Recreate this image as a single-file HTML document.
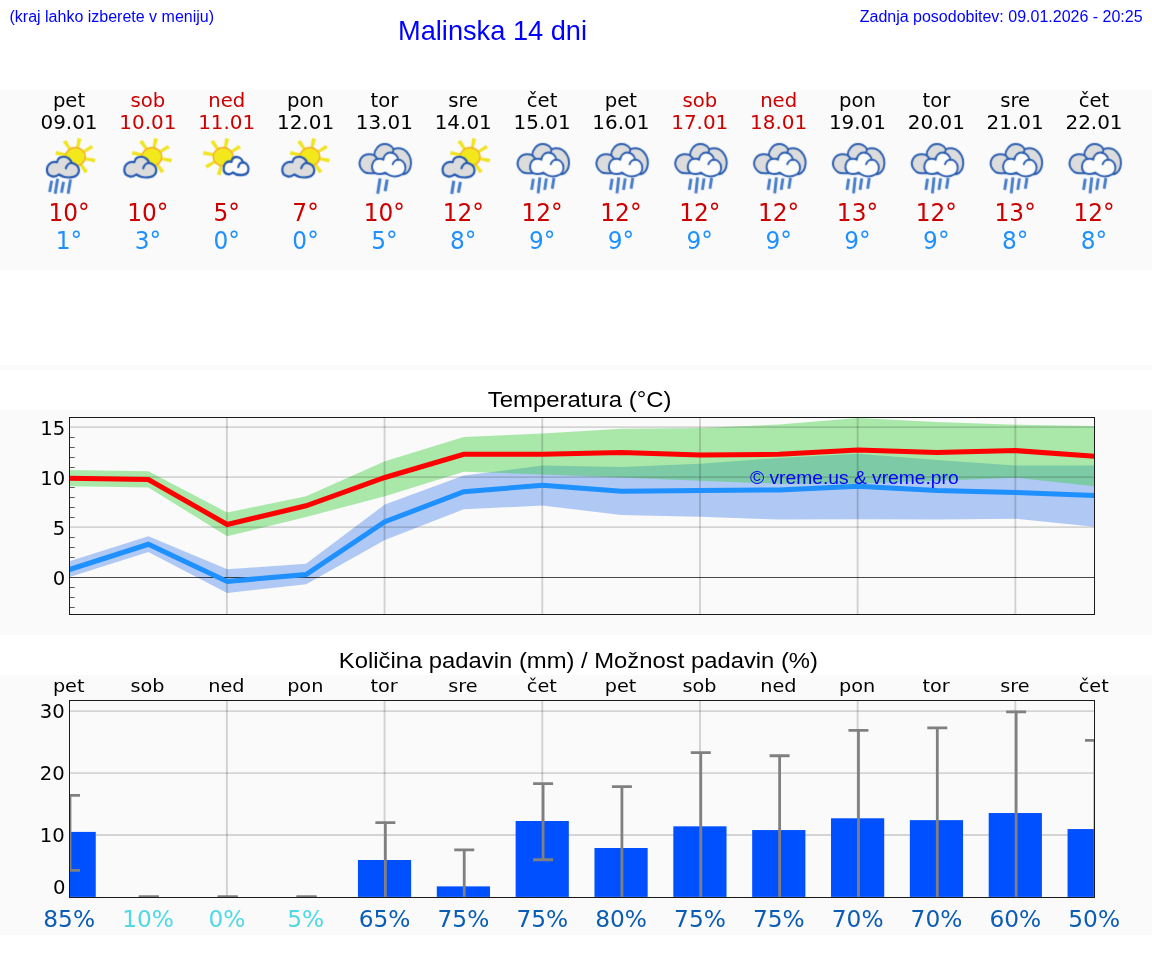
<!DOCTYPE html>
<html lang="sl"><head><meta charset="utf-8"><title>Malinska 14 dni</title>
<style>
html,body{margin:0;padding:0;background:#fff;}
body{width:1152px;height:975px;overflow:hidden;position:relative;}
svg{position:absolute;left:0;top:0;display:block;}
.a{font-family:"Liberation Sans",Arial,Helvetica,sans-serif;}
.d{font-family:"DejaVu Sans","Liberation Sans",sans-serif;}
</style></head><body>
<svg width="1152" height="975" viewBox="0 0 1152 975">
<text class="a" x="9.50" y="21.50" font-size="16" fill="#0000ff" text-anchor="start">(kraj lahko izberete v meniju)</text>
<text class="a" x="492.50" y="39.50" font-size="27.2" fill="#0000ff" text-anchor="middle">Malinska 14 dni</text>
<text class="a" x="1142.60" y="21.80" font-size="16" fill="#0000ff" text-anchor="end">Zadnja posodobitev: 09.01.2026 - 20:25</text>
<rect x="0" y="90" width="1152" height="180" fill="#fafafa"/>
<rect x="0" y="365" width="1152" height="5" fill="#fafafa"/>
<rect x="0" y="410" width="1152" height="225" fill="#fafafa"/>
<rect x="0" y="675" width="1152" height="260" fill="#fafafa"/>
<defs>
<filter id="soft" x="-10%" y="-10%" width="120%" height="120%" color-interpolation-filters="sRGB"><feConvolveMatrix order="3" kernelMatrix="0.0144 0.0912 0.0144 0.0912 0.5776 0.0912 0.0144 0.0912 0.0144" divisor="1" preserveAlpha="false" edgeMode="none"/></filter>
<g id="sun">
 <g fill="#f0e31e">
  <polygon points="-1.35,-9 1.35,-9 1.85,-18.6 -1.85,-18.6" transform="rotate(12)"/>
  <polygon points="-1.35,-9 1.35,-9 1.85,-18.6 -1.85,-18.6" transform="rotate(57)"/>
  <polygon points="-1.35,-9 1.35,-9 1.85,-18.6 -1.85,-18.6" transform="rotate(102)"/>
  <polygon points="-1.35,-9 1.35,-9 1.85,-18.6 -1.85,-18.6" transform="rotate(147)"/>
  <polygon points="-1.35,-9 1.35,-9 1.85,-18.6 -1.85,-18.6" transform="rotate(192)"/>
  <polygon points="-1.35,-9 1.35,-9 1.85,-18.6 -1.85,-18.6" transform="rotate(237)"/>
  <polygon points="-1.35,-9 1.35,-9 1.85,-18.6 -1.85,-18.6" transform="rotate(282)"/>
  <polygon points="-1.35,-9 1.35,-9 1.85,-18.6 -1.85,-18.6" transform="rotate(327)"/>
 </g>
 <circle cx="0" cy="0" r="9.2" fill="#f2e81c" stroke="#f5ab28" stroke-width="1.3"/>
</g>
<g id="cloudS">
 <path d="M278.0,608.8 C249.5,633.6 211.5,642.8 183.0,636.4 C130.8,624.4 102.2,583.0 107.0,532.4 C111.8,472.6 159.2,431.2 211.5,428.5 C225.8,427.6 240.0,430.3 251.4,434.0 C259.0,385.2 297.0,354.9 344.5,354.9 C396.8,354.9 449.0,389.8 460.4,442.3 C515.5,449.6 565.9,491.0 565.9,546.2 C565.9,601.4 529.8,638.2 472.8,647.4 C406.2,658.5 330.2,647.4 278.0,608.8 Z" stroke-linejoin="round"/>
 <path d="M461.4,443.2 C425.2,445.0 387.2,477.2 377.8,520.5" fill="none" stroke-linecap="round"/>
</g>
<g id="cloudB" stroke="#2a5db0" stroke-width="28" stroke-linejoin="round">
 <path d="M300,590 C230,600 150,580 115,500 C85,420 130,330 230,320 C265,317 295,322 320,332 C320,255 385,172 465,172 C525,172 575,198 600,245 C640,230 700,228 745,250 C815,285 860,370 855,450 C850,530 810,590 750,605 Z" fill="#dcdcdc"/>
 <path d="M320,580 C290,550 280,500 295,455 C312,405 360,380 410,385 C425,386 440,390 452,397 C455,340 500,295 555,295 C610,295 660,335 670,395 C720,400 765,440 773,500 C780,560 740,610 680,628 C620,645 540,635 478,582 C430,605 365,610 320,580 Z" fill="#fcfcfc"/>
 <path d="M672,397 C640,395 600,420 588,462" fill="none" stroke-linecap="round"/>
 <path d="M320,332 C335,350 350,370 366,386 M600,245 C601,265 593,285 581,300" fill="none" stroke-linecap="round"/>
</g>
<g id="icA">
 <g transform="translate(6.4,156.7) scale(1.08,1)"><use href="#sun"/></g>
 <g transform="translate(-29.498,132) scale(0.069735)"><use href="#cloudS" fill="#dcdcdc" stroke="#2358b0" stroke-width="31"/>
  <g stroke="#447bc8" stroke-width="42"><line x1="175" y1="700" x2="145" y2="860"/><line x1="260" y1="670" x2="225" y2="885"/><line x1="345" y1="715" x2="315" y2="870"/><line x1="445" y1="680" x2="410" y2="885"/></g>
 </g>
</g>
<g id="icB">
 <g transform="translate(5.5,156.7) scale(1.08,1)"><use href="#sun"/></g>
 <g transform="translate(-29.498,132) scale(0.069735)"><use href="#cloudS" fill="#dcdcdc" stroke="#2358b0" stroke-width="31"/></g>
</g>
<g id="icC">
 <g transform="translate(-4.1,156.7) scale(1.08,1)"><use href="#sun"/></g>
 <g transform="translate(8.8,166) scale(0.054,0.0609) translate(-335,-503)"><use href="#cloudS" fill="#fcfcfc" stroke="#2358b0" stroke-width="40"/></g>
</g>
<g id="icD">
 <g transform="translate(-32.2,132) scale(0.0687,0.069735)"><use href="#cloudB"/>
  <g stroke="#447bc8" stroke-width="44"><line x1="405" y1="665" x2="370" y2="885"/><line x1="508" y1="680" x2="478" y2="850"/></g>
 </g>
</g>
<g id="icE">
 <g transform="translate(6.4,156.7) scale(1.08,1)"><use href="#sun"/></g>
 <g transform="translate(-28.6,132) scale(0.069735)"><use href="#cloudS" fill="#dcdcdc" stroke="#2358b0" stroke-width="31"/>
  <g stroke="#447bc8" stroke-width="44"><line x1="268" y1="700" x2="238" y2="890"/><line x1="363" y1="715" x2="333" y2="870"/></g>
 </g>
</g>
<g id="icF">
 <g transform="translate(-31.7,132) scale(0.0687,0.069735)"><use href="#cloudB"/>
  <g stroke="#447bc8" stroke-width="42"><line x1="335" y1="670" x2="310" y2="830"/><line x1="430" y1="650" x2="405" y2="880"/><line x1="525" y1="665" x2="500" y2="830"/><line x1="635" y1="660" x2="610" y2="815"/></g>
 </g>
</g>
</defs>
<text class="d" transform="translate(69.00,107.20) scale(1.05,1)" font-size="18.7" fill="#000000" text-anchor="middle">pet</text>
<text class="d" transform="translate(69.00,128.90) scale(1.0667,1)" font-size="18.7" fill="#000000" text-anchor="middle">09.01</text>
<use href="#icA" x="69.00" y="0" filter="url(#soft)"/>
<text class="d" transform="translate(69.00,221.20) scale(0.93,1)" font-size="25" fill="#cc0000" text-anchor="middle">10°</text>
<text class="d" transform="translate(69.00,248.80) scale(0.93,1)" font-size="25" fill="#1e90ff" text-anchor="middle">1°</text>
<text class="d" transform="translate(147.85,107.20) scale(1.05,1)" font-size="18.7" fill="#cc0000" text-anchor="middle">sob</text>
<text class="d" transform="translate(147.85,128.90) scale(1.0667,1)" font-size="18.7" fill="#cc0000" text-anchor="middle">10.01</text>
<use href="#icB" x="146.35" y="0" filter="url(#soft)"/>
<text class="d" transform="translate(147.85,221.20) scale(0.93,1)" font-size="25" fill="#cc0000" text-anchor="middle">10°</text>
<text class="d" transform="translate(147.85,248.80) scale(0.93,1)" font-size="25" fill="#1e90ff" text-anchor="middle">3°</text>
<text class="d" transform="translate(226.69,107.20) scale(1.05,1)" font-size="18.7" fill="#cc0000" text-anchor="middle">ned</text>
<text class="d" transform="translate(226.69,128.90) scale(1.0667,1)" font-size="18.7" fill="#cc0000" text-anchor="middle">11.01</text>
<use href="#icC" x="227.19" y="0" filter="url(#soft)"/>
<text class="d" transform="translate(226.69,221.20) scale(0.93,1)" font-size="25" fill="#cc0000" text-anchor="middle">5°</text>
<text class="d" transform="translate(226.69,248.80) scale(0.93,1)" font-size="25" fill="#1e90ff" text-anchor="middle">0°</text>
<text class="d" transform="translate(305.54,107.20) scale(1.05,1)" font-size="18.7" fill="#000000" text-anchor="middle">pon</text>
<text class="d" transform="translate(305.54,128.90) scale(1.0667,1)" font-size="18.7" fill="#000000" text-anchor="middle">12.01</text>
<use href="#icB" x="304.34" y="0" filter="url(#soft)"/>
<text class="d" transform="translate(305.54,221.20) scale(0.93,1)" font-size="25" fill="#cc0000" text-anchor="middle">7°</text>
<text class="d" transform="translate(305.54,248.80) scale(0.93,1)" font-size="25" fill="#1e90ff" text-anchor="middle">0°</text>
<text class="d" transform="translate(384.38,107.20) scale(1.05,1)" font-size="18.7" fill="#000000" text-anchor="middle">tor</text>
<text class="d" transform="translate(384.38,128.90) scale(1.0667,1)" font-size="18.7" fill="#000000" text-anchor="middle">13.01</text>
<use href="#icD" x="384.48" y="0" filter="url(#soft)"/>
<text class="d" transform="translate(384.38,221.20) scale(0.93,1)" font-size="25" fill="#cc0000" text-anchor="middle">10°</text>
<text class="d" transform="translate(384.38,248.80) scale(0.93,1)" font-size="25" fill="#1e90ff" text-anchor="middle">5°</text>
<text class="d" transform="translate(463.23,107.20) scale(1.05,1)" font-size="18.7" fill="#000000" text-anchor="middle">sre</text>
<text class="d" transform="translate(463.23,128.90) scale(1.0667,1)" font-size="18.7" fill="#000000" text-anchor="middle">14.01</text>
<use href="#icE" x="463.73" y="0" filter="url(#soft)"/>
<text class="d" transform="translate(463.23,221.20) scale(0.93,1)" font-size="25" fill="#cc0000" text-anchor="middle">12°</text>
<text class="d" transform="translate(463.23,248.80) scale(0.93,1)" font-size="25" fill="#1e90ff" text-anchor="middle">8°</text>
<text class="d" transform="translate(542.08,107.20) scale(1.05,1)" font-size="18.7" fill="#000000" text-anchor="middle">čet</text>
<text class="d" transform="translate(542.08,128.90) scale(1.0667,1)" font-size="18.7" fill="#000000" text-anchor="middle">15.01</text>
<use href="#icF" x="542.03" y="0" filter="url(#soft)"/>
<text class="d" transform="translate(542.08,221.20) scale(0.93,1)" font-size="25" fill="#cc0000" text-anchor="middle">12°</text>
<text class="d" transform="translate(542.08,248.80) scale(0.93,1)" font-size="25" fill="#1e90ff" text-anchor="middle">9°</text>
<text class="d" transform="translate(620.92,107.20) scale(1.05,1)" font-size="18.7" fill="#000000" text-anchor="middle">pet</text>
<text class="d" transform="translate(620.92,128.90) scale(1.0667,1)" font-size="18.7" fill="#000000" text-anchor="middle">16.01</text>
<use href="#icF" x="620.87" y="0" filter="url(#soft)"/>
<text class="d" transform="translate(620.92,221.20) scale(0.93,1)" font-size="25" fill="#cc0000" text-anchor="middle">12°</text>
<text class="d" transform="translate(620.92,248.80) scale(0.93,1)" font-size="25" fill="#1e90ff" text-anchor="middle">9°</text>
<text class="d" transform="translate(699.77,107.20) scale(1.05,1)" font-size="18.7" fill="#cc0000" text-anchor="middle">sob</text>
<text class="d" transform="translate(699.77,128.90) scale(1.0667,1)" font-size="18.7" fill="#cc0000" text-anchor="middle">17.01</text>
<use href="#icF" x="699.72" y="0" filter="url(#soft)"/>
<text class="d" transform="translate(699.77,221.20) scale(0.93,1)" font-size="25" fill="#cc0000" text-anchor="middle">12°</text>
<text class="d" transform="translate(699.77,248.80) scale(0.93,1)" font-size="25" fill="#1e90ff" text-anchor="middle">9°</text>
<text class="d" transform="translate(778.62,107.20) scale(1.05,1)" font-size="18.7" fill="#cc0000" text-anchor="middle">ned</text>
<text class="d" transform="translate(778.62,128.90) scale(1.0667,1)" font-size="18.7" fill="#cc0000" text-anchor="middle">18.01</text>
<use href="#icF" x="778.57" y="0" filter="url(#soft)"/>
<text class="d" transform="translate(778.62,221.20) scale(0.93,1)" font-size="25" fill="#cc0000" text-anchor="middle">12°</text>
<text class="d" transform="translate(778.62,248.80) scale(0.93,1)" font-size="25" fill="#1e90ff" text-anchor="middle">9°</text>
<text class="d" transform="translate(857.46,107.20) scale(1.05,1)" font-size="18.7" fill="#000000" text-anchor="middle">pon</text>
<text class="d" transform="translate(857.46,128.90) scale(1.0667,1)" font-size="18.7" fill="#000000" text-anchor="middle">19.01</text>
<use href="#icF" x="857.41" y="0" filter="url(#soft)"/>
<text class="d" transform="translate(857.46,221.20) scale(0.93,1)" font-size="25" fill="#cc0000" text-anchor="middle">13°</text>
<text class="d" transform="translate(857.46,248.80) scale(0.93,1)" font-size="25" fill="#1e90ff" text-anchor="middle">9°</text>
<text class="d" transform="translate(936.31,107.20) scale(1.05,1)" font-size="18.7" fill="#000000" text-anchor="middle">tor</text>
<text class="d" transform="translate(936.31,128.90) scale(1.0667,1)" font-size="18.7" fill="#000000" text-anchor="middle">20.01</text>
<use href="#icF" x="936.26" y="0" filter="url(#soft)"/>
<text class="d" transform="translate(936.31,221.20) scale(0.93,1)" font-size="25" fill="#cc0000" text-anchor="middle">12°</text>
<text class="d" transform="translate(936.31,248.80) scale(0.93,1)" font-size="25" fill="#1e90ff" text-anchor="middle">9°</text>
<text class="d" transform="translate(1015.15,107.20) scale(1.05,1)" font-size="18.7" fill="#000000" text-anchor="middle">sre</text>
<text class="d" transform="translate(1015.15,128.90) scale(1.0667,1)" font-size="18.7" fill="#000000" text-anchor="middle">21.01</text>
<use href="#icF" x="1015.10" y="0" filter="url(#soft)"/>
<text class="d" transform="translate(1015.15,221.20) scale(0.93,1)" font-size="25" fill="#cc0000" text-anchor="middle">13°</text>
<text class="d" transform="translate(1015.15,248.80) scale(0.93,1)" font-size="25" fill="#1e90ff" text-anchor="middle">8°</text>
<text class="d" transform="translate(1094.00,107.20) scale(1.05,1)" font-size="18.7" fill="#000000" text-anchor="middle">čet</text>
<text class="d" transform="translate(1094.00,128.90) scale(1.0667,1)" font-size="18.7" fill="#000000" text-anchor="middle">22.01</text>
<use href="#icF" x="1093.95" y="0" filter="url(#soft)"/>
<text class="d" transform="translate(1094.00,221.20) scale(0.93,1)" font-size="25" fill="#cc0000" text-anchor="middle">12°</text>
<text class="d" transform="translate(1094.00,248.80) scale(0.93,1)" font-size="25" fill="#1e90ff" text-anchor="middle">8°</text>
<text class="a" transform="translate(579.60,407.40) scale(1.078,1)" font-size="22.2" fill="#000" text-anchor="middle">Temperatura (°C)</text>
<clipPath id="cpT"><rect x="69.5" y="417.5" width="1025.0" height="197.0"/></clipPath>
<line x1="69.5" x2="74.7" y1="607.50" y2="607.50" stroke="#000" stroke-opacity="0.8" stroke-width="0.8"/>
<line x1="69.5" x2="74.7" y1="597.50" y2="597.50" stroke="#000" stroke-opacity="0.8" stroke-width="0.8"/>
<line x1="69.5" x2="74.7" y1="587.50" y2="587.50" stroke="#000" stroke-opacity="0.8" stroke-width="0.8"/>
<line x1="69.5" x2="74.7" y1="567.50" y2="567.50" stroke="#000" stroke-opacity="0.8" stroke-width="0.8"/>
<line x1="69.5" x2="74.7" y1="557.50" y2="557.50" stroke="#000" stroke-opacity="0.8" stroke-width="0.8"/>
<line x1="69.5" x2="74.7" y1="547.50" y2="547.50" stroke="#000" stroke-opacity="0.8" stroke-width="0.8"/>
<line x1="69.5" x2="74.7" y1="537.50" y2="537.50" stroke="#000" stroke-opacity="0.8" stroke-width="0.8"/>
<line x1="69.5" x2="74.7" y1="517.50" y2="517.50" stroke="#000" stroke-opacity="0.8" stroke-width="0.8"/>
<line x1="69.5" x2="74.7" y1="507.50" y2="507.50" stroke="#000" stroke-opacity="0.8" stroke-width="0.8"/>
<line x1="69.5" x2="74.7" y1="497.50" y2="497.50" stroke="#000" stroke-opacity="0.8" stroke-width="0.8"/>
<line x1="69.5" x2="74.7" y1="487.50" y2="487.50" stroke="#000" stroke-opacity="0.8" stroke-width="0.8"/>
<line x1="69.5" x2="74.7" y1="467.50" y2="467.50" stroke="#000" stroke-opacity="0.8" stroke-width="0.8"/>
<line x1="69.5" x2="74.7" y1="457.50" y2="457.50" stroke="#000" stroke-opacity="0.8" stroke-width="0.8"/>
<line x1="69.5" x2="74.7" y1="447.50" y2="447.50" stroke="#000" stroke-opacity="0.8" stroke-width="0.8"/>
<line x1="69.5" x2="74.7" y1="437.50" y2="437.50" stroke="#000" stroke-opacity="0.8" stroke-width="0.8"/>
<g clip-path="url(#cpT)">
<polygon points="69.50,561.25 148.35,536.25 227.19,569.30 306.04,563.75 384.88,504.50 463.73,475.50 542.58,465.50 621.42,467.00 700.27,463.75 779.12,458.00 857.96,453.75 936.81,460.00 1015.65,465.50 1094.50,465.60 1094.50,526.70 1015.65,518.75 936.81,519.50 857.96,519.25 779.12,519.50 700.27,516.75 621.42,515.00 542.58,505.50 463.73,509.25 384.88,540.00 306.04,584.25 227.19,593.00 148.35,552.00 69.50,577.00" fill="#6495ed" fill-opacity="0.5"/>
<polygon points="69.50,470.00 148.35,471.25 227.19,512.50 306.04,496.25 384.88,461.25 463.73,437.00 542.58,433.40 621.42,428.75 700.27,428.00 779.12,424.50 857.96,418.00 936.81,422.00 1015.65,424.80 1094.50,425.90 1094.50,486.20 1015.65,477.80 936.81,480.75 857.96,483.75 779.12,483.75 700.27,480.75 621.42,477.50 542.58,474.50 463.73,471.75 384.88,496.25 306.04,517.00 227.19,536.25 148.35,487.50 69.50,486.25" fill="#32cd32" fill-opacity="0.4"/>
<line x1="69.5" x2="1094.5" y1="527.10" y2="527.10" stroke="#000" stroke-opacity="0.15" stroke-width="1.8"/>
<line x1="69.5" x2="1094.5" y1="477.10" y2="477.10" stroke="#000" stroke-opacity="0.15" stroke-width="1.8"/>
<line x1="69.5" x2="1094.5" y1="427.10" y2="427.10" stroke="#000" stroke-opacity="0.15" stroke-width="1.8"/>
<line x1="226.89" x2="226.89" y1="417.5" y2="614.5" stroke="#000" stroke-opacity="0.16" stroke-width="1.9"/>
<line x1="384.58" x2="384.58" y1="417.5" y2="614.5" stroke="#000" stroke-opacity="0.16" stroke-width="1.9"/>
<line x1="542.28" x2="542.28" y1="417.5" y2="614.5" stroke="#000" stroke-opacity="0.16" stroke-width="1.9"/>
<line x1="699.97" x2="699.97" y1="417.5" y2="614.5" stroke="#000" stroke-opacity="0.16" stroke-width="1.9"/>
<line x1="857.66" x2="857.66" y1="417.5" y2="614.5" stroke="#000" stroke-opacity="0.16" stroke-width="1.9"/>
<line x1="1015.35" x2="1015.35" y1="417.5" y2="614.5" stroke="#000" stroke-opacity="0.16" stroke-width="1.9"/>
<line x1="69.5" x2="1094.5" y1="577.5" y2="577.5" stroke="#000" stroke-opacity="0.8" stroke-width="0.9"/>
<polyline points="69.50,569.50 148.35,544.25 227.19,581.40 306.04,574.50 384.88,521.75 463.73,491.75 542.58,485.25 621.42,491.25 700.27,490.50 779.12,490.00 857.96,486.25 936.81,490.50 1015.65,492.50 1094.50,495.60" fill="none" stroke="#1e90ff" stroke-width="5.0" stroke-linejoin="miter"/>
<polyline points="69.50,478.25 148.35,479.50 227.19,524.50 306.04,505.75 384.88,477.50 463.73,454.25 542.58,454.25 621.42,452.50 700.27,455.00 779.12,454.25 857.96,450.00 936.81,452.50 1015.65,450.60 1094.50,456.20" fill="none" stroke="#ff0000" stroke-width="5.0" stroke-linejoin="miter"/>
</g>
<rect x="69.5" y="417.5" width="1025.0" height="197.0" fill="none" stroke="#1a1a1a" stroke-width="1"/>
<text class="d" x="65.30" y="585.10" font-size="19.6" fill="#000" text-anchor="end">0</text>
<text class="d" x="65.30" y="535.10" font-size="19.6" fill="#000" text-anchor="end">5</text>
<text class="d" x="65.30" y="485.10" font-size="19.6" fill="#000" text-anchor="end">10</text>
<text class="d" x="65.30" y="435.10" font-size="19.6" fill="#000" text-anchor="end">15</text>
<text class="a" transform="translate(750.00,483.90) scale(1.04,1)" font-size="18.5" fill="#0000ff" text-anchor="start">© vreme.us &amp; vreme.pro</text>
<text class="a" transform="translate(578.40,667.50) scale(1.0735,1)" font-size="22.2" fill="#000" text-anchor="middle">Količina padavin (mm) / Možnost padavin (%)</text>
<clipPath id="cpP"><rect x="69.5" y="700.5" width="1025.0" height="197.0"/></clipPath>
<text class="d" transform="translate(68.70,692.40) scale(1.04,1)" font-size="18.5" fill="#000" text-anchor="middle">pet</text>
<text class="d" transform="translate(147.55,692.40) scale(1.04,1)" font-size="18.5" fill="#000" text-anchor="middle">sob</text>
<text class="d" transform="translate(226.39,692.40) scale(1.04,1)" font-size="18.5" fill="#000" text-anchor="middle">ned</text>
<text class="d" transform="translate(305.24,692.40) scale(1.04,1)" font-size="18.5" fill="#000" text-anchor="middle">pon</text>
<text class="d" transform="translate(384.08,692.40) scale(1.04,1)" font-size="18.5" fill="#000" text-anchor="middle">tor</text>
<text class="d" transform="translate(462.93,692.40) scale(1.04,1)" font-size="18.5" fill="#000" text-anchor="middle">sre</text>
<text class="d" transform="translate(541.78,692.40) scale(1.04,1)" font-size="18.5" fill="#000" text-anchor="middle">čet</text>
<text class="d" transform="translate(620.62,692.40) scale(1.04,1)" font-size="18.5" fill="#000" text-anchor="middle">pet</text>
<text class="d" transform="translate(699.47,692.40) scale(1.04,1)" font-size="18.5" fill="#000" text-anchor="middle">sob</text>
<text class="d" transform="translate(778.32,692.40) scale(1.04,1)" font-size="18.5" fill="#000" text-anchor="middle">ned</text>
<text class="d" transform="translate(857.16,692.40) scale(1.04,1)" font-size="18.5" fill="#000" text-anchor="middle">pon</text>
<text class="d" transform="translate(936.01,692.40) scale(1.04,1)" font-size="18.5" fill="#000" text-anchor="middle">tor</text>
<text class="d" transform="translate(1014.85,692.40) scale(1.04,1)" font-size="18.5" fill="#000" text-anchor="middle">sre</text>
<text class="d" transform="translate(1093.70,692.40) scale(1.04,1)" font-size="18.5" fill="#000" text-anchor="middle">čet</text>
<g clip-path="url(#cpP)">
<line x1="69.5" x2="1094.5" y1="835.00" y2="835.00" stroke="#000" stroke-opacity="0.15" stroke-width="1.8"/>
<line x1="69.5" x2="1094.5" y1="773.10" y2="773.10" stroke="#000" stroke-opacity="0.15" stroke-width="1.8"/>
<line x1="69.5" x2="1094.5" y1="711.20" y2="711.20" stroke="#000" stroke-opacity="0.15" stroke-width="1.8"/>
<line x1="226.89" x2="226.89" y1="700.5" y2="897.5" stroke="#000" stroke-opacity="0.16" stroke-width="1.9"/>
<line x1="384.58" x2="384.58" y1="700.5" y2="897.5" stroke="#000" stroke-opacity="0.16" stroke-width="1.9"/>
<line x1="542.28" x2="542.28" y1="700.5" y2="897.5" stroke="#000" stroke-opacity="0.16" stroke-width="1.9"/>
<line x1="699.97" x2="699.97" y1="700.5" y2="897.5" stroke="#000" stroke-opacity="0.16" stroke-width="1.9"/>
<line x1="857.66" x2="857.66" y1="700.5" y2="897.5" stroke="#000" stroke-opacity="0.16" stroke-width="1.9"/>
<line x1="1015.35" x2="1015.35" y1="700.5" y2="897.5" stroke="#000" stroke-opacity="0.16" stroke-width="1.9"/>
<rect x="42.55" y="831.90" width="53.2" height="65.00" fill="#0050ff"/>
<rect x="121.40" y="896.90" width="53.2" height="0.00" fill="#0050ff"/>
<rect x="200.24" y="896.90" width="53.2" height="0.00" fill="#0050ff"/>
<rect x="279.09" y="896.90" width="53.2" height="0.00" fill="#0050ff"/>
<rect x="357.93" y="860.01" width="53.2" height="36.89" fill="#0050ff"/>
<rect x="436.78" y="886.38" width="53.2" height="10.52" fill="#0050ff"/>
<rect x="515.63" y="821.01" width="53.2" height="75.89" fill="#0050ff"/>
<rect x="594.47" y="848.00" width="53.2" height="48.90" fill="#0050ff"/>
<rect x="673.32" y="826.33" width="53.2" height="70.57" fill="#0050ff"/>
<rect x="752.17" y="830.05" width="53.2" height="66.85" fill="#0050ff"/>
<rect x="831.01" y="818.29" width="53.2" height="78.61" fill="#0050ff"/>
<rect x="909.86" y="820.14" width="53.2" height="76.76" fill="#0050ff"/>
<rect x="988.70" y="813.03" width="53.2" height="83.87" fill="#0050ff"/>
<rect x="1067.55" y="829.06" width="53.2" height="67.84" fill="#0050ff"/>
<line x1="70.00" x2="70.00" y1="795.38" y2="870.28" stroke="#808080" stroke-width="2.8"/>
<line x1="60.00" x2="80.00" y1="795.38" y2="795.38" stroke="#808080" stroke-width="2.8"/>
<line x1="60.00" x2="80.00" y1="870.28" y2="870.28" stroke="#808080" stroke-width="2.8"/>
<line x1="148.85" x2="148.85" y1="896.90" y2="896.90" stroke="#808080" stroke-width="2.8"/>
<line x1="138.85" x2="158.85" y1="896.90" y2="896.90" stroke="#808080" stroke-width="2.8"/>
<line x1="138.85" x2="158.85" y1="896.90" y2="896.90" stroke="#808080" stroke-width="2.8"/>
<line x1="227.69" x2="227.69" y1="896.90" y2="896.90" stroke="#808080" stroke-width="2.8"/>
<line x1="217.69" x2="237.69" y1="896.90" y2="896.90" stroke="#808080" stroke-width="2.8"/>
<line x1="217.69" x2="237.69" y1="896.90" y2="896.90" stroke="#808080" stroke-width="2.8"/>
<line x1="306.54" x2="306.54" y1="896.90" y2="896.90" stroke="#808080" stroke-width="2.8"/>
<line x1="296.54" x2="316.54" y1="896.90" y2="896.90" stroke="#808080" stroke-width="2.8"/>
<line x1="296.54" x2="316.54" y1="896.90" y2="896.90" stroke="#808080" stroke-width="2.8"/>
<line x1="385.38" x2="385.38" y1="822.62" y2="896.90" stroke="#808080" stroke-width="2.8"/>
<line x1="375.38" x2="395.38" y1="822.62" y2="822.62" stroke="#808080" stroke-width="2.8"/>
<line x1="464.23" x2="464.23" y1="849.86" y2="896.90" stroke="#808080" stroke-width="2.8"/>
<line x1="454.23" x2="474.23" y1="849.86" y2="849.86" stroke="#808080" stroke-width="2.8"/>
<line x1="543.08" x2="543.08" y1="783.62" y2="859.76" stroke="#808080" stroke-width="2.8"/>
<line x1="533.08" x2="553.08" y1="783.62" y2="783.62" stroke="#808080" stroke-width="2.8"/>
<line x1="533.08" x2="553.08" y1="859.76" y2="859.76" stroke="#808080" stroke-width="2.8"/>
<line x1="621.92" x2="621.92" y1="786.72" y2="896.90" stroke="#808080" stroke-width="2.8"/>
<line x1="611.92" x2="631.92" y1="786.72" y2="786.72" stroke="#808080" stroke-width="2.8"/>
<line x1="700.77" x2="700.77" y1="752.67" y2="896.90" stroke="#808080" stroke-width="2.8"/>
<line x1="690.77" x2="710.77" y1="752.67" y2="752.67" stroke="#808080" stroke-width="2.8"/>
<line x1="779.62" x2="779.62" y1="755.77" y2="896.90" stroke="#808080" stroke-width="2.8"/>
<line x1="769.62" x2="789.62" y1="755.77" y2="755.77" stroke="#808080" stroke-width="2.8"/>
<line x1="858.46" x2="858.46" y1="730.39" y2="896.90" stroke="#808080" stroke-width="2.8"/>
<line x1="848.46" x2="868.46" y1="730.39" y2="730.39" stroke="#808080" stroke-width="2.8"/>
<line x1="937.31" x2="937.31" y1="727.91" y2="896.90" stroke="#808080" stroke-width="2.8"/>
<line x1="927.31" x2="947.31" y1="727.91" y2="727.91" stroke="#808080" stroke-width="2.8"/>
<line x1="1016.15" x2="1016.15" y1="711.82" y2="896.90" stroke="#808080" stroke-width="2.8"/>
<line x1="1006.15" x2="1026.15" y1="711.82" y2="711.82" stroke="#808080" stroke-width="2.8"/>
<line x1="1095.00" x2="1095.00" y1="740.29" y2="896.90" stroke="#808080" stroke-width="2.8"/>
<line x1="1085.00" x2="1105.00" y1="740.29" y2="740.29" stroke="#808080" stroke-width="2.8"/>
</g>
<rect x="69.5" y="700.5" width="1025.0" height="197.0" fill="none" stroke="#1a1a1a" stroke-width="1"/>
<text class="d" x="65.50" y="893.70" font-size="19.6" fill="#000" text-anchor="end">0</text>
<text class="d" x="64.70" y="842.20" font-size="19.6" fill="#000" text-anchor="end">10</text>
<text class="d" x="64.70" y="780.30" font-size="19.6" fill="#000" text-anchor="end">20</text>
<text class="d" x="64.70" y="718.40" font-size="19.6" fill="#000" text-anchor="end">30</text>
<text class="d" x="69.20" y="926.60" font-size="23.3" fill="#0a5cb5" text-anchor="middle">85%</text>
<text class="d" x="148.05" y="926.60" font-size="23.3" fill="#4fd9e4" text-anchor="middle">10%</text>
<text class="d" x="226.89" y="926.60" font-size="23.3" fill="#4fd9e4" text-anchor="middle">0%</text>
<text class="d" x="305.74" y="926.60" font-size="23.3" fill="#4fd9e4" text-anchor="middle">5%</text>
<text class="d" x="384.58" y="926.60" font-size="23.3" fill="#0a5cb5" text-anchor="middle">65%</text>
<text class="d" x="463.43" y="926.60" font-size="23.3" fill="#0a5cb5" text-anchor="middle">75%</text>
<text class="d" x="542.28" y="926.60" font-size="23.3" fill="#0a5cb5" text-anchor="middle">75%</text>
<text class="d" x="621.12" y="926.60" font-size="23.3" fill="#0a5cb5" text-anchor="middle">80%</text>
<text class="d" x="699.97" y="926.60" font-size="23.3" fill="#0a5cb5" text-anchor="middle">75%</text>
<text class="d" x="778.82" y="926.60" font-size="23.3" fill="#0a5cb5" text-anchor="middle">75%</text>
<text class="d" x="857.66" y="926.60" font-size="23.3" fill="#0a5cb5" text-anchor="middle">70%</text>
<text class="d" x="936.51" y="926.60" font-size="23.3" fill="#0a5cb5" text-anchor="middle">70%</text>
<text class="d" x="1015.35" y="926.60" font-size="23.3" fill="#0a5cb5" text-anchor="middle">60%</text>
<text class="d" x="1094.20" y="926.60" font-size="23.3" fill="#0a5cb5" text-anchor="middle">50%</text>
</svg>
</body></html>
